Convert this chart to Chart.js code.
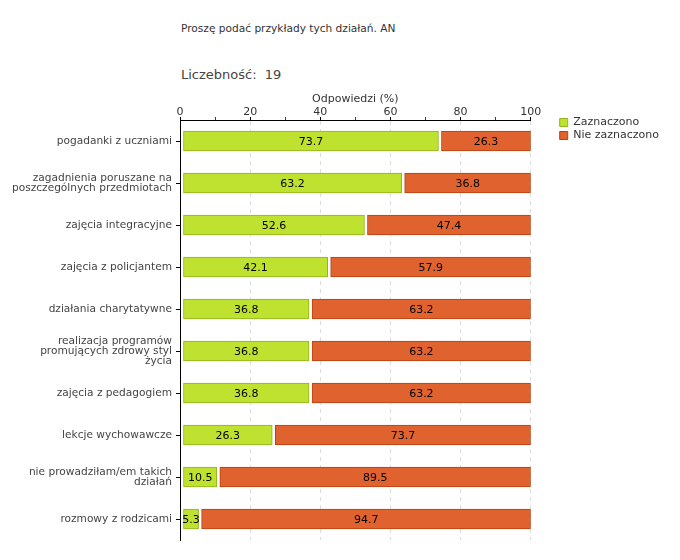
<!DOCTYPE html>
<html>
<head>
<meta charset="utf-8">
<script src="https://cdn.jsdelivr.net/npm/chart.js@4/dist/chart.umd.min.js"></script>
<style>
  body { margin: 0; background: #fff; font-family: "DejaVu Sans", sans-serif; }
  #wrap { position: relative; width: 680px; height: 560px; }
  #q { position: absolute; left: 181px; top: 22px; font-size: 10.6px; color: #333; }
  #n { position: absolute; left: 181px; top: 67px; font-size: 13px; color: #444; }
  canvas { position: absolute; left: 0; top: 0; }
</style>
</head>
<body>
<div id="wrap">
  <div id="q">Proszę podać przykłady tych działań. AN</div>
  <div id="n">Liczebność:&nbsp; 19</div>
  <canvas id="myChart" width="680" height="560"></canvas>
</div>
<script>
// categories (multi-line labels as arrays)
var categories = [
    'pogadanki z uczniami',
    ['zagadnienia poruszane na', 'poszczególnych przedmiotach'],
    'zajęcia integracyjne',
    'zajęcia z policjantem',
    'działania charytatywne',
    ['realizacja programów', 'promujących zdrowy styl', 'życia'],
    'zajęcia z pedagogiem',
    'lekcje wychowawcze',
    ['nie prowadziłam/em takich', 'działań'],
    'rozmowy z rodzicami'
];
var zaznaczono    = [73.7, 63.2, 52.6, 42.1, 36.8, 36.8, 36.8, 26.3, 10.5, 5.3];
var nieZaznaczono = [26.3, 36.8, 47.4, 57.9, 63.2, 63.2, 63.2, 73.7, 89.5, 94.7];
var seriesNames = ['Zaznaczono', 'Nie zaznaczono'];

// small white gap at the start of every bar segment
var gapPlugin = {
    id: 'gap',
    afterDatasetsUpdate: function(chart) {
        chart.data.datasets.forEach(function(ds, i) {
            chart.getDatasetMeta(i).data.forEach(function(bar) {
                bar.base += 3;
            });
        });
    }
};

// move the legend a bit away from the plot, level with the first bar
var legendPlugin = {
    id: 'legendPos',
    afterLayout: function(chart) {
        var l = chart.legend;
        var w = l.right - l.left, h = l.bottom - l.top;
        l.left = chart.chartArea.right + 27;
        l.right = l.left + w;
        l.top = 115;
        l.bottom = l.top + h;
    }
};

// value in the middle of each bar
var valuePlugin = {
    id: 'values',
    afterDatasetsDraw: function(chart) {
        var ctx = chart.ctx;
        ctx.save();
        ctx.font = '11px "DejaVu Sans"';
        ctx.fillStyle = '#000';
        ctx.textAlign = 'center';
        ctx.textBaseline = 'middle';
        chart.data.datasets.forEach(function(ds, i) {
            chart.getDatasetMeta(i).data.forEach(function(bar, j) {
                var cx = (bar.x + bar.base) / 2;
                ctx.fillText(ds.data[j].toFixed(1), cx, bar.y + 1);
            });
        });
        ctx.restore();
    }
};

var ctx = document.getElementById('myChart').getContext('2d');
var myChart = new Chart(ctx, {
    type: 'bar',
    data: {
        labels: categories,
        datasets: [{
            label: seriesNames[0],
            data: zaznaczono,
            backgroundColor: '#bee22f',
            borderColor: '#8fb41c',
            borderWidth: 1,
            borderSkipped: false
        }, {
            label: seriesNames[1],
            data: nieZaznaczono,
            backgroundColor: '#e0632f',
            borderColor: '#b8400f',
            borderWidth: 1,
            borderSkipped: false
        }]
    },
    options: {
        indexAxis: 'y',
        responsive: false,
        animation: false,
        layout: { padding: { top: 85, left: 0, right: 38, bottom: 20 } },
        datasets: { bar: { barThickness: 20 } },
        scales: {
            x: {
                position: 'top',
                stacked: true,
                min: 0,
                max: 100,
                afterFit: function(scale) { scale.height = 35; },
                ticks: {
                    stepSize: 10,
                    autoSkip: false,
                    maxRotation: 0,
                    padding: -2,
                    color: '#333',
                    font: { family: 'DejaVu Sans', size: 11 },
                    callback: function(value) { return value % 20 === 0 ? value : ''; }
                },
                grid: {
                    color: function(c) {
                        if (!c.tick || c.tick.value === 0 || c.tick.value % 20 !== 0) return 'rgba(0,0,0,0)';
                        return '#dddddd';
                    },
                    tickColor: function(c) {
                        return (c.tick && c.tick.value % 20 !== 0) ? '#d00000' : '#000';
                    },
                    tickLength: 3,
                    tickBorderDash: [],
                    tickBorderDashOffset: 0
                },
                border: { color: '#000', width: 1, dash: [4, 4] },
                title: {
                    display: true,
                    text: 'Odpowiedzi (%)',
                    color: '#333',
                    font: { family: 'DejaVu Sans', size: 11 },
                    padding: { top: 8, bottom: 0 }
                }
            },
            y: {
                stacked: true,
                afterFit: function(scale) { scale.width = 180; },
                ticks: {
                    autoSkip: false,
                    padding: 4,
                    color: '#444',
                    font: { family: 'DejaVu Sans', size: 10.6, lineHeight: '10px' }
                },
                grid: {
                    offset: false,
                    drawOnChartArea: false,
                    tickLength: 4,
                    tickColor: '#000'
                },
                border: { color: '#000', width: 1 }
            }
        },
        plugins: {
            legend: {
                position: 'right',
                align: 'start',
                labels: {
                    boxWidth: 8,
                    boxHeight: 8,
                    padding: 2,
                    color: '#333',
                    font: { family: 'DejaVu Sans', size: 11 }
                }
            },
            tooltip: { enabled: false }
        }
    },
    plugins: [gapPlugin, legendPlugin, valuePlugin]
});
</script>
</body>
</html>
